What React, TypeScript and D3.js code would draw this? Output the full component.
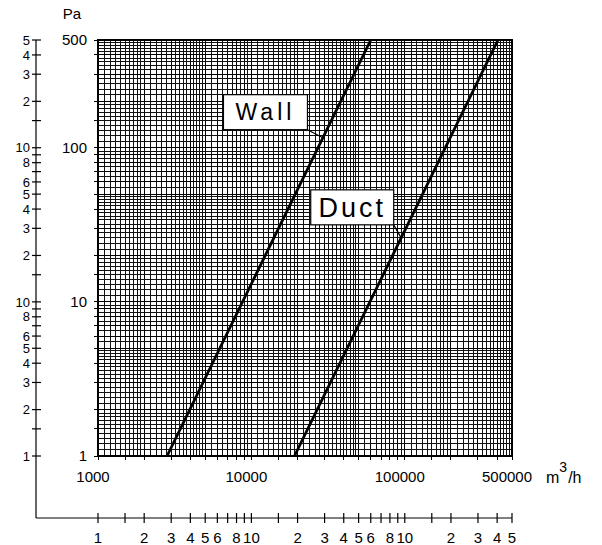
import React from 'react';
import * as d3 from 'd3';

const width = 602;
const height = 545;

// chart values (flow m3/h vs pressure Pa)
const xDomain = [1000, 500000];
const yDomain = [1, 500];

const wallCurve = [
  { q: 2820, p: 1 },
  { q: 60000, p: 500 },
];
const ductCurve = [
  { q: 19100, p: 1 },
  { q: 405000, p: 500 },
];

const xTickValues = [1000, 10000, 100000, 500000];
const xTickLabels = ['1000', '10000', '100000', '500000'];
const yTickValues = [1, 10, 100, 500];
const yTickLabels = ['1', '10', '100', '500'];

// outer scales: ticks per decade, with labels
const scaleMantissas = [1, 1.5, 2, 3, 4, 5, 6, 7, 8, 9];
const scaleLabels: Record<string, string> = { '2': '2', '3': '3', '4': '4', '5': '5', '6': '6', '8': '8' };

// log paper subdivisions
const gridBands = [
  { from: 1, to: 2, step: 0.1 },
  { from: 2, to: 5, step: 0.2 },
  { from: 5, to: 10, step: 0.5 },
];

const annotations = [
  { text: 'Wall', curve: wallCurve, q: 23200, p: 131, w: 84, h: 35, size: 23, spacing: 4, leaderP: 116 },
  { text: 'Duct', curve: ductCurve, q: 84700, p: 31.6, w: 83, h: 35, size: 27, spacing: 3, leaderP: 26 },
];

const plot = { left: 98, right: 512, top: 40, bottom: 456 };
const axisX = 36;
const axisY = 518;

const x = d3.scaleLog().domain(xDomain).range([plot.left, plot.right]);
const y = d3.scaleLog().domain(yDomain).range([plot.bottom, plot.top]);

const decadesOf = (domain: number[]) => {
  const out: number[] = [];
  for (let e = Math.floor(Math.log10(domain[0])); e <= Math.floor(Math.log10(domain[1])); e++) out.push(Math.pow(10, e));
  return out;
};

const gridValues = (domain: number[]) => {
  const out: { v: number; major: boolean }[] = [];
  decadesOf(domain).forEach((d) => {
    gridBands.forEach((b) => {
      for (let m = b.from; m < b.to - 1e-9; m += b.step) {
        const mm = Math.round(m * 100) / 100;
        const v = d * mm;
        if (v >= domain[0] - 1e-6 && v <= domain[1] + 1e-6) out.push({ v, major: Number.isInteger(mm) });
      }
    });
  });
  return out;
};

const scaleTicks = (domain: number[]) => {
  const out: { v: number; label: string }[] = [];
  decadesOf(domain).forEach((d, di) => {
    scaleMantissas.forEach((m) => {
      const v = d * m;
      if (v < domain[0] - 1e-6 || v > domain[1] + 1e-6) return;
      let label = scaleLabels[String(m)] || '';
      if (m === 1) label = di === 0 ? '1' : '10';
      out.push({ v, label });
    });
  });
  return out;
};

const qAt = (curve: { q: number; p: number }[], p: number) => {
  const [a, b] = curve;
  const t = (Math.log(p) - Math.log(a.p)) / (Math.log(b.p) - Math.log(a.p));
  return Math.exp(Math.log(a.q) + t * (Math.log(b.q) - Math.log(a.q)));
};

const line = d3
  .line<{ q: number; p: number }>()
  .x((d) => x(d.q))
  .y((d) => y(d.p));

const font = "'Liberation Sans', Arial, sans-serif";

export default function App() {
  const xGrid = gridValues(xDomain);
  const yGrid = gridValues(yDomain);
  const xScaleTicks = scaleTicks(xDomain);
  const yScaleTicks = scaleTicks(yDomain);

  return (
    <svg
      width={width}
      height={height}
      style={{ position: 'absolute', left: 0, top: 0, background: '#fff' }}
      fontFamily={font}
    >
      <rect width={width} height={height} fill="#fff" />

      {/* grid */}
      <g shapeRendering="crispEdges">
        {xGrid.map((g, i) => (
          <line
            key={'xg' + i}
            x1={x(g.v)}
            x2={x(g.v)}
            y1={plot.top}
            y2={plot.bottom}
            stroke={g.major ? '#000' : '#111'}
            strokeWidth={1}
          />
        ))}
        {yGrid.map((g, i) => (
          <line
            key={'yg' + i}
            y1={y(g.v)}
            y2={y(g.v)}
            x1={plot.left}
            x2={plot.right}
            stroke={g.major ? '#000' : '#111'}
            strokeWidth={1}
          />
        ))}
        <rect
          x={plot.left}
          y={plot.top}
          width={plot.right - plot.left}
          height={plot.bottom - plot.top}
          fill="none"
          stroke="#000"
          strokeWidth={1.5}
        />
        {/* small outward ticks on the plot frame */}
        {xScaleTicks.map((t, i) => (
          <line key={'xf' + i} x1={x(t.v)} x2={x(t.v)} y1={plot.bottom} y2={plot.bottom + 4} stroke="#000" />
        ))}
        {yScaleTicks.map((t, i) => (
          <line key={'yf' + i} y1={y(t.v)} y2={y(t.v)} x1={plot.left - 4} x2={plot.left} stroke="#000" />
        ))}
      </g>

      {/* curves */}
      <path d={line(wallCurve) || ''} fill="none" stroke="#000" strokeWidth={2.8} />
      <path d={line(ductCurve) || ''} fill="none" stroke="#000" strokeWidth={2.8} />

      {/* labels with leaders */}
      {annotations.map((a) => {
        const bx = x(a.q);
        const by = y(a.p);
        const lq = qAt(a.curve, a.leaderP);
        return (
          <g key={a.text}>
            <line x1={bx} y1={by} x2={x(lq)} y2={y(a.leaderP)} stroke="#000" strokeWidth={1.2} />
            <rect x={bx - a.w} y={by - a.h} width={a.w} height={a.h} fill="#fff" stroke="#000" strokeWidth={1.2} />
            <text
              x={bx - a.w / 2}
              y={by - a.h / 2}
              dy="0.36em"
              textAnchor="middle"
              fontSize={a.size}
              letterSpacing={a.spacing}
              fontWeight={300}
            >
              {a.text}
            </text>
          </g>
        );
      })}

      {/* inner tick labels */}
      {xTickValues.map((v, i) => (
        <text key={'xl' + i} x={x(v) - 5} y={482} textAnchor="middle" fontSize={15}>
          {xTickLabels[i]}
        </text>
      ))}
      {yTickValues.map((v, i) => (
        <text key={'yl' + i} x={87} y={y(v)} dy="0.35em" textAnchor="end" fontSize={15}>
          {yTickLabels[i]}
        </text>
      ))}

      {/* units */}
      <text x={72} y={19} textAnchor="middle" fontSize={15}>
        Pa
      </text>
      <text x={546} y={483} fontSize={16}>
        m
        <tspan dy={-11} fontSize={14}>
          3
        </tspan>
        <tspan dy={11} dx={1}>
          /h
        </tspan>
      </text>

      {/* outer left scale */}
      <g>
        <line x1={axisX} x2={axisX} y1={plot.top} y2={axisY} stroke="#000" strokeWidth={1.2} />
        {yScaleTicks.map((t, i) => (
          <g key={'ys' + i}>
            <line x1={axisX - 4} x2={axisX + 5} y1={y(t.v)} y2={y(t.v)} stroke="#000" strokeWidth={1.2} />
            {t.label && (
              <text x={axisX - 6} y={y(t.v)} dy="0.36em" textAnchor="end" fontSize={13}>
                {t.label}
              </text>
            )}
          </g>
        ))}
      </g>

      {/* outer bottom scale */}
      <g>
        <line x1={axisX} x2={plot.right} y1={axisY} y2={axisY} stroke="#000" strokeWidth={1.2} />
        {xScaleTicks.map((t, i) => (
          <g key={'xs' + i}>
            <line x1={x(t.v)} x2={x(t.v)} y1={axisY - 5} y2={axisY + 5} stroke="#000" strokeWidth={1.2} />
            {t.label && (
              <text x={x(t.v)} y={543} textAnchor="middle" fontSize={15}>
                {t.label}
              </text>
            )}
          </g>
        ))}
      </g>
    </svg>
  );
}
